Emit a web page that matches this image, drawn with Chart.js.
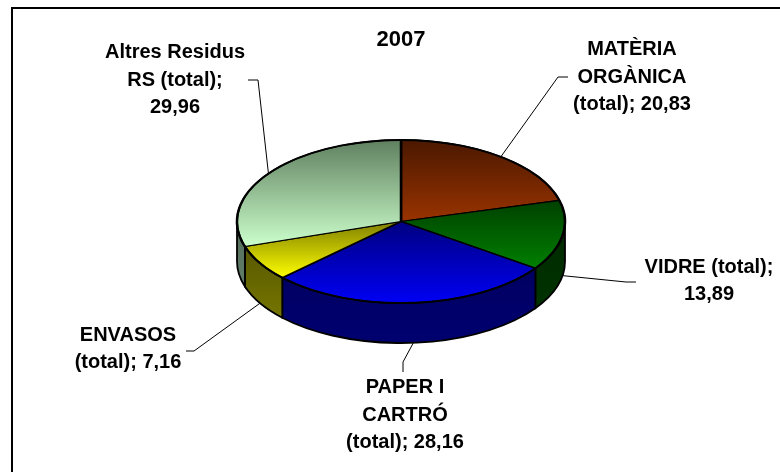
<!DOCTYPE html>
<html>
<head>
<meta charset="utf-8">
<script src="https://cdn.jsdelivr.net/npm/chart.js@4.4.1/dist/chart.umd.min.js"></script>
<style>
  html, body { margin: 0; padding: 0; background: #fff; }
  #wrap { position: relative; width: 780px; height: 472px; overflow: hidden; }
  #frame { position: absolute; left: 11px; top: 7px; width: 800px; height: 500px;
           border-left: 2px solid #000; border-top: 2px solid #000; pointer-events: none; }
</style>
</head>
<body>
<div id="wrap">
  <canvas id="chart" width="780" height="472"></canvas>
  <div id="frame"></div>
</div>
<script>
const chartTitle = '2007';
const categories = ['MATÈRIA ORGÀNICA (total)', 'VIDRE (total)', 'PAPER I CARTRÓ (total)', 'ENVASOS (total)', 'Altres Residus RS (total)'];
const values = [20.83, 13.89, 28.16, 7.16, 29.96];

// top face gradient (dark at top -> light at bottom) and side wall colours
const topDark = ['#4a1800', '#004000', '#000080', '#7f7f00', '#5f7f5f'];
const topLight = ['#993300', '#008000', '#0000f5', '#ffff00', '#ccffcc'];
const sideDark = ['#331100', '#002a00', '#000058', '#4d4d00', '#556f5c'];
const sideLight = ['#4d1a00', '#003500', '#000070', '#808000', '#6a8a70'];

// where each label block is centred, and the bend / end of its leader line
const labelBox = [
  { x: 632, y: 77, bend: [558, 77], end: [568, 77] },
  { x: 709, y: 281, bend: [626, 282], end: [636, 282] },
  { x: 405, y: 415, bend: [403, 362], end: [403, 372] },
  { x: 128, y: 349, bend: [194, 351], end: [186, 351] },
  { x: 175, y: 80, bend: [258, 80], end: [248, 80] }
];

const FONT = '"Liberation Sans", Arial, Helvetica, sans-serif';
const fmt = v => v.toFixed(2).replace('.', ',');

function sliceGradient(c) {
  const i = c.dataIndex;
  const chart = c.chart, area = chart.chartArea;
  if (!area) return topLight[i];
  const cy = (area.top + area.bottom) / 2;
  const R = Math.min(area.width, area.height) / 2;
  const total = values.reduce((a, b) => a + b, 0);
  let before = 0;
  for (let k = 0; k < i; k++) before += values[k];
  const a0 = -Math.PI / 2 + 2 * Math.PI * before / total;
  const a1 = a0 + 2 * Math.PI * values[i] / total;
  let lo = 0, hi = 0;
  for (let k = 0; k <= 40; k++) {
    const s = Math.sin(a0 + (a1 - a0) * k / 40);
    lo = Math.min(lo, s); hi = Math.max(hi, s);
  }
  const g = chart.ctx.createLinearGradient(0, cy + R * lo, 0, cy + R * hi);
  g.addColorStop(0, topDark[i]);
  g.addColorStop(1, topLight[i]);
  return g;
}

function wrap(ctx, text, maxW) {
  const lines = [];
  let line = '';
  text.split(' ').forEach(w => {
    const t = line ? line + ' ' + w : w;
    if (line && ctx.measureText(t).width > maxW) { lines.push(line); line = w; }
    else line = t;
  });
  lines.push(line);
  return lines;
}

const pie3d = {
  id: 'pie3d',
  beforeDatasetsDraw(chart, args, o) {
    const arcs = chart.getDatasetMeta(0).data;
    const ctx = chart.ctx;
    const cx = arcs[0].x, R = arcs[0].outerRadius;
    // side walls, only the front half is visible
    arcs.forEach((arc, i) => {
      const a0 = Math.max(arc.startAngle, 0), a1 = Math.min(arc.endAngle, Math.PI);
      if (a1 <= a0) return;
      const g = ctx.createLinearGradient(0, o.cy, 0, o.cy + o.ry + o.depth);
      g.addColorStop(0, sideDark[i]);
      g.addColorStop(1, sideLight[i]);
      ctx.beginPath();
      ctx.ellipse(cx, o.cy, o.rx, o.ry, 0, a0, a1);
      ctx.ellipse(cx, o.cy + o.depth, o.rx, o.ry, 0, a1, a0, true);
      ctx.closePath();
      ctx.fillStyle = g;
      ctx.fill();
      ctx.lineWidth = 1.8;
      ctx.strokeStyle = '#000';
      ctx.stroke();
    });
    // squash the library's pie into the tilted top face
    ctx.save();
    ctx.translate(cx, o.cy);
    ctx.scale(o.rx / R, o.ry / R);
    ctx.translate(-arcs[0].x, -arcs[0].y);
  },
  afterDatasetsDraw(chart, args, o) {
    const ctx = chart.ctx;
    ctx.restore();
    const arcs = chart.getDatasetMeta(0).data;
    const cx = arcs[0].x;
    ctx.save();
    ctx.beginPath();
    ctx.ellipse(cx, o.cy, o.rx, o.ry, 0, 0, Math.PI * 2);
    ctx.lineWidth = 1.8;
    ctx.strokeStyle = '#000';
    ctx.stroke();

    // data labels with leader lines
    ctx.font = 'bold 20px ' + FONT;
    ctx.fillStyle = '#000';
    ctx.textAlign = 'center';
    ctx.textBaseline = 'middle';
    arcs.forEach((arc, i) => {
      const mid = (arc.startAngle + arc.endAngle) / 2;
      const s = Math.sin(mid);
      const ax = cx + o.rx * Math.cos(mid);
      const ay = o.cy + o.ry * s + (s > 0 ? o.depth : 0);
      const b = labelBox[i];
      ctx.beginPath();
      ctx.moveTo(ax, ay);
      ctx.lineTo(b.bend[0], b.bend[1]);
      ctx.lineTo(b.end[0], b.end[1]);
      ctx.lineWidth = 1;
      ctx.strokeStyle = '#000';
      ctx.stroke();
      const lines = wrap(ctx, categories[i] + '; ' + fmt(values[i]), 145);
      const lh = 27.5;
      const y0 = b.y - (lines.length - 1) * lh / 2;
      lines.forEach((t, k) => ctx.fillText(t, b.x, y0 + k * lh));
    });
    ctx.restore();
  }
};

new Chart(document.getElementById('chart'), {
  type: 'pie',
  data: {
    labels: categories,
    datasets: [{
      data: values,
      backgroundColor: sliceGradient,
      borderColor: '#000',
      borderWidth: 2.5
    }]
  },
  options: {
    responsive: false,
    animation: false,
    events: [],
    layout: { padding: { left: 237, right: 215, top: 0, bottom: 0 } },
    plugins: {
      legend: { display: false },
      tooltip: { enabled: false },
      title: {
        display: true,
        text: chartTitle,
        color: '#000',
        font: { family: FONT, size: 22, weight: 'bold' },
        padding: { top: 27, bottom: 10 }
      },
      pie3d: { cy: 221.5, rx: 164, ry: 81.5, depth: 40 }
    }
  },
  plugins: [pie3d]
});
</script>
</body>
</html>
